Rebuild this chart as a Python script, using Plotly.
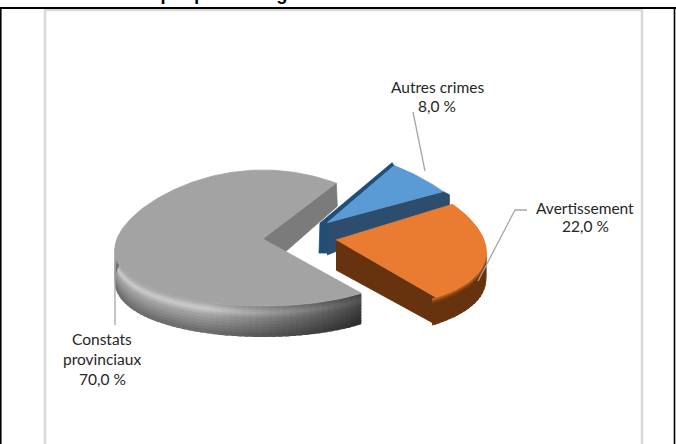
import math
import plotly.graph_objects as go

categories = ["Autres crimes", "Avertissement", "Constats provinciaux"]
values = [8.0, 22.0, 70.0]
colors = ["#5b9bd5", "#ed7d31", "#a5a5a5"]
label_lines = [["Autres crimes"], ["Avertissement"], ["Constats", "provinciaux"]]

W, H = 676, 444
START = 54.0
apex = [(327, 223), (336, 240), (263, 239)]
thick = [15, 30, 31]
rad_x = [148, 148, 146]
rad_back = [71, 71, 69]
rad_front = [71, 71, 67]
persp = [0.28, 0.18, 0.18]
warp_amp = [1, 5, 0]

fig = go.Figure()


def poly(pts, color, lw=0.8):
    fig.add_trace(go.Scatter(x=[p[0] for p in pts], y=[p[1] for p in pts], mode="lines",
                             fill="toself", fillcolor=color, line=dict(color=color, width=lw),
                             hoverinfo="skip", showlegend=False))


def warp(i, d):
    if -START <= d <= START:
        return d + warp_amp[i] * math.sin(math.radians(d * 180 / START))
    return d


def pt(i, deg, z=0.0):
    t = math.radians(warp(i, deg))
    X, Y = math.cos(t), math.sin(t)
    cx, cy = apex[i]
    b = rad_back[i] if Y > 0 else rad_front[i]
    return (cx + rad_x[i] * X * (1 - persp[i] * Y), cy - b * Y + z)


def arc(i, a0, a1, n=60, z=0.0):
    return [pt(i, a0 + (a1 - a0) * j / n, z) for j in range(n + 1)]


def mix(rgb, f):
    return "rgb(%d,%d,%d)" % tuple(max(0, min(255, round(c * f))) for c in rgb)


def wall(i, a0, a1, n, bands, shade):
    """Outer wall painted front to back with overlaps so no seams show."""
    for j in range(n):
        d0 = a0 + (a1 - a0) * j / n
        d1 = a0 + (a1 - a0) * (j + 1.6) / n
        dm = a0 + (a1 - a0) * (j + 0.5) / n
        f = shade(dm)
        for k, (z0, z1, rgb) in enumerate(bands):
            zb = z1 + (1.5 if k < len(bands) - 1 else 0)
            poly(arc(i, d0, d1, 2, z0) + arc(i, d1, d0, 2, zb), mix(rgb, f), lw=0)


# slice angles, clockwise from the top of the blue slice
spans = []
a = START
for v in values:
    b = a - v * 3.6
    spans.append((a, b))
    a = b

# --- grey slice
i = 2
a0, a1 = spans[i]
far = pt(i, a1)
h = thick[i]
poly([apex[i], far, (far[0] + 1, far[1] + 23), (apex[i][0] + 21, apex[i][1] + 14)], "#7b7b7b")
gb = [(z0, z1, (g, g, g)) for z0, z1, g in
      [(0, 2, 170), (2, 4, 182), (4, 6, 196), (6, 8, 200), (8, 10, 186), (10, 12, 172), (12, 15, 160),
       (15, 18, 150), (18, 21, 140), (21, 24, 130), (24, 27, 120), (27, h, 110)]]
wall(i, a0, -190, 60, gb, lambda d: 0.40 + 0.60 * min(1.0, (-54 - d) / 55.0))
poly([apex[i]] + arc(i, a0, a1, n=180), "#a3a3a3")

# --- blue slice
i = 0
a0, a1 = spans[i]
p_far, p_right = pt(i, a0), pt(i, a1)
ax, ay = apex[i]
poly([(p_far[0] - 2, p_far[1] - 3), (ax - 7, ay), (ax - 8, ay + 30), (ax + 4, ay + 30), (ax, ay), p_far], "#1f4e79")
poly([(ax, ay), p_right, (p_right[0] + 6, p_right[1] + 3), (p_right[0] + 6, p_right[1] + 15), (ax, ay + 32)], "#2c4d6e")
poly([apex[i]] + arc(i, a0, a1, n=24), colors[0])

# --- orange slice
i = 1
a0, a1 = spans[i]
h = thick[i]
p_low = pt(i, a1)
ax, ay = apex[i]
poly([(ax, ay), p_low, (p_low[0], p_low[1] + h - 3), (ax, ay + h)], "#67330f")
ob = [(0, 1.5, (196, 102, 31)), (1.5, 3, (160, 84, 26)), (3, 5, (125, 62, 20)), (5, h - 3, (103, 51, 15))]
wall(i, a0, a1, 30, ob, lambda d: 1.0)
poly([apex[i]] + arc(i, a0, a1, n=60), "#e97c30")

# --- texts
label_pos = [(437, [87, 106]), (585, [208, 226]), (102, [339, 359, 379])]
annotations = []
for (x, ys), lines, v in zip(label_pos, label_lines, values):
    rows = lines + [f"{v:.1f} %".replace(".", ",")]
    for y, txt in zip(ys, rows):
        annotations.append(dict(x=x, y=y, xref="x", yref="y", text=txt, showarrow=False, align="center",
                                font=dict(family="Lato", size=15.5, color="#262626")))
annotations.append(dict(x=337.0 / W, y=1, xref="paper", yref="paper", yanchor="bottom", yshift=-6,
                        showarrow=False, align="center",
                        text="<b>Graphique : Catégories des infractions relevées</b>",
                        font=dict(family="Liberation Sans", size=18.3, color="#000000")))

lead = "#a6a6a6"
shapes = [
    dict(type="rect", x0=45, x1=642, y0=10, y1=460, line=dict(color="#d9d9d9", width=2.5), layer="below"),
    dict(type="line", x0=0, x1=676, y0=8, y1=8, line=dict(color="#000000", width=2)),
    dict(type="line", x0=0.8, x1=0.8, y0=8, y1=444, line=dict(color="#000000", width=1.6)),
    dict(type="line", x0=674.5, x1=674.5, y0=8, y1=444, line=dict(color="#000000", width=1.6)),
    dict(type="path", path="M413,112 L425,171", line=dict(color=lead, width=1.3)),
    dict(type="path", path="M527,210 L515,210 L478,281", line=dict(color=lead, width=1.3)),
    dict(type="path", path="M115,248 L115,325", line=dict(color=lead, width=1.3)),
]

fig.update_layout(
    width=W, height=H, margin=dict(l=0, r=0, t=0, b=0),
    paper_bgcolor="#ffffff", plot_bgcolor="#ffffff", showlegend=False,
    xaxis=dict(range=[0, W], visible=False, fixedrange=True),
    yaxis=dict(range=[H, 0], visible=False, fixedrange=True),
    annotations=annotations, shapes=shapes,
)
fig.write_html("out.html", config={"displayModeBar": False},
               post_script="document.body.style.margin='0';document.body.style.overflow='hidden';")
